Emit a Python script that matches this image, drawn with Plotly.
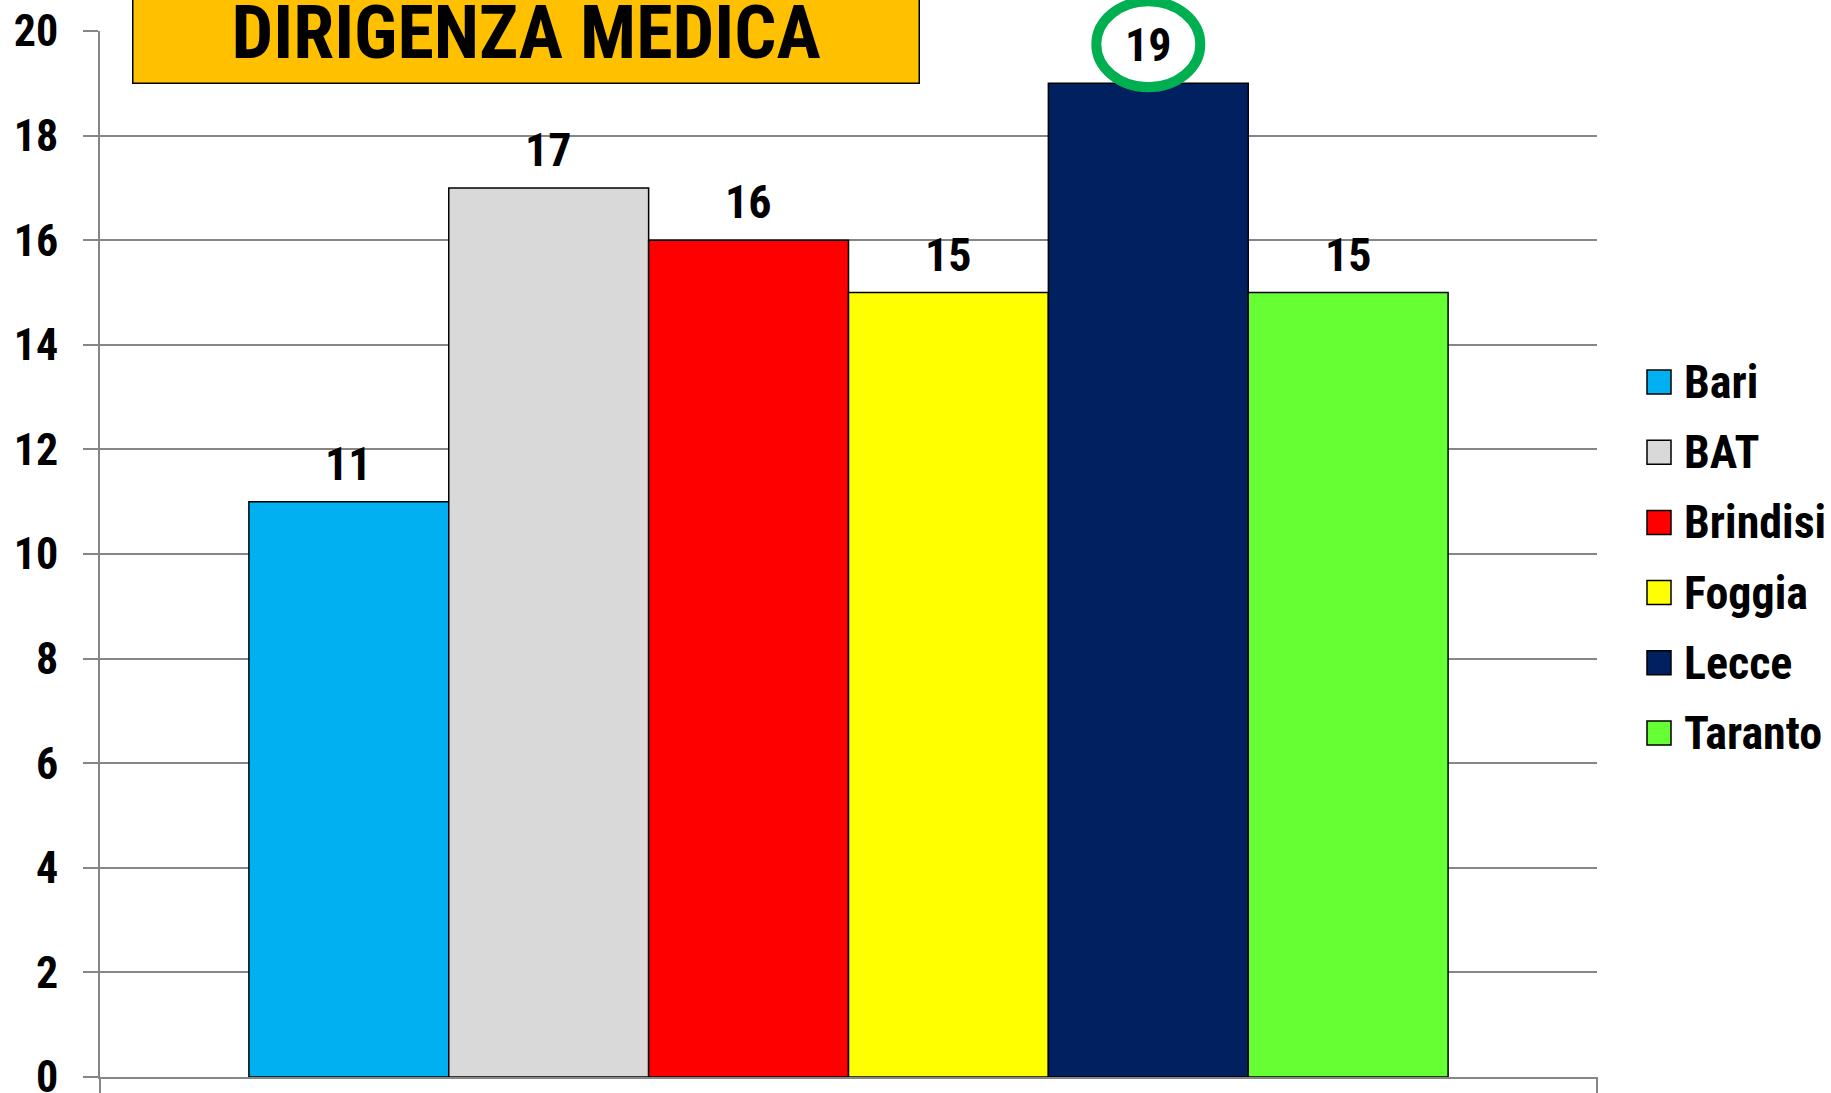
import plotly.graph_objects as go

# dati
province = ["Bari", "BAT", "Brindisi", "Foggia", "Lecce", "Taranto"]
valori = [11, 17, 16, 15, 19, 15]
colori = ["#00B0F0", "#D9D9D9", "#FF0000", "#FFFF00", "#002060", "#66FF33"]
titolo = "DIRIGENZA MEDICA"
evidenziata = "Lecce"
y_ticks = [0, 2, 4, 6, 8, 10, 12, 14, 16, 18, 20]

FONT = "Roboto Condensed, Liberation Sans Narrow, sans-serif"
GRIGIO = "#868686"
W, H = 1831, 1093
M = dict(l=100, r=234, t=31, b=16)
x_lo, x_hi = -1.245, len(province) - 1 + 1.245
y_lo, y_hi = 0, 20

fig = go.Figure()

# una traccia per provincia
for i, (p, v, c) in enumerate(zip(province, valori, colori)):
    fig.add_trace(go.Bar(
        x=[i], y=[v], name=p, width=1,
        marker=dict(color=c, line=dict(color="black", width=1.5)),
        showlegend=False, cliponaxis=False,
    ))

# etichette valori sopra le barre
for i, v in enumerate(valori):
    fig.add_annotation(
        x=i, y=v, text=str(v), showarrow=False,
        yanchor="bottom", yshift=9,
        font=dict(family=FONT, size=46, color="black", weight="bold"),
    )

# cerchio verde sul valore massimo
idx = province.index(evidenziata)
fig.add_shape(
    type="circle", xref="paper", yref="paper",
    xsizemode="pixel", ysizemode="pixel",
    xanchor=(idx - x_lo) / (x_hi - x_lo),
    yanchor=(valori[idx] - y_lo) / (y_hi - y_lo),
    x0=-52, x1=52, y0=-4, y1=82,
    line=dict(color="#00B050", width=10),
)

# riquadro titolo
plot_w = W - M["l"] - M["r"]
plot_h = H - M["t"] - M["b"]
fig.add_annotation(
    xref="paper", yref="paper",
    x=(132 - M["l"]) / plot_w, y=(H - M["b"] - 84) / plot_h,
    xanchor="left", yanchor="bottom",
    text=titolo, showarrow=False,
    width=785, height=100, valign="middle",
    bgcolor="#FFC000", bordercolor="black", borderwidth=1.5, borderpad=0,
    font=dict(family=FONT, size=74, color="black", weight="bold"),
)

# legenda disegnata a mano (quadrati grandi)
for k, (p, c) in enumerate(zip(province, colori)):
    yc = 382 + k * 70.2
    yp = (H - M["b"] - yc) / plot_h
    fig.add_shape(
        type="rect", xref="paper", yref="paper",
        xsizemode="pixel", ysizemode="pixel",
        xanchor=(1659 - M["l"]) / plot_w, yanchor=yp,
        x0=-12, x1=12, y0=-12, y1=12,
        fillcolor=c, line=dict(color="black", width=1.5),
    )
    fig.add_annotation(
        xref="paper", yref="paper",
        x=(1682 - M["l"]) / plot_w, y=yp,
        xanchor="left", yanchor="middle",
        text=p, showarrow=False,
        font=dict(family=FONT, size=46, color="black", weight="bold"),
    )

# tacche asse x ai bordi
for xp in [0, 1]:
    fig.add_shape(
        type="line", xref="paper", yref="paper",
        x0=xp, x1=xp, y0=0, y1=-16 / plot_h,
        line=dict(color=GRIGIO, width=2),
    )

fig.update_layout(
    width=W, height=H, margin=M,
    paper_bgcolor="white", plot_bgcolor="white",
    barmode="overlay", showlegend=False,
    xaxis=dict(
        range=[x_lo, x_hi], showticklabels=False, showgrid=False, automargin=False,
        zeroline=False, ticks="", showline=True, linecolor=GRIGIO, linewidth=2,
    ),
    yaxis=dict(
        range=[y_lo, y_hi], tickvals=y_ticks, showgrid=True, automargin=False,
        gridcolor=GRIGIO, gridwidth=2, zeroline=False,
        showline=True, linecolor=GRIGIO, linewidth=2,
        ticks="outside", ticklen=15, tickwidth=2, tickcolor=GRIGIO,
        ticklabelstandoff=16, ticklabeloverflow="allow",
        tickfont=dict(family=FONT, size=44, color="black", weight="bold"),
    ),
)

fig.write_html(
    "out.html",
    config={"displayModeBar": False},
    post_script="document.body.style.margin='0px';",
)
